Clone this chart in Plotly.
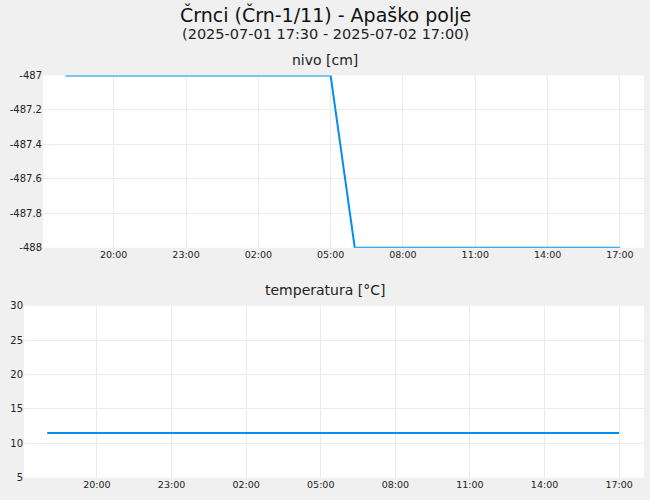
import plotly.graph_objects as go
import pandas as pd

# ---- data ----
times = list(pd.date_range("2025-07-01 18:00", "2025-07-02 17:00", freq="1h"))
nivo = [-487, -487, -487, -487, -487, -487, -487, -487, -487, -487, -487, -487,
        -488, -488, -488, -488, -488, -488, -488, -488, -488, -488, -488, -488]
temperatura = [11.5, 11.5, 11.5, 11.5, 11.5, 11.5, 11.5, 11.5, 11.5, 11.5, 11.5, 11.5,
               11.5, 11.5, 11.5, 11.5, 11.5, 11.5, 11.5, 11.5, 11.5, 11.5, 11.5, 11.5]

nivo_ticks = [-488, -487.8, -487.6, -487.4, -487.2, -487]
nivo_ticklabels = ["-488", "-487.8", "-487.6", "-487.4", "-487.2", "-487"]
temp_ticks = [5, 10, 15, 20, 25, 30]

title = "Črnci (Črn-1/11) - Apaško polje"
subtitle = "(2025-07-01 17:30 - 2025-07-02 17:00)"
title1 = "nivo [cm]"
title2 = "temperatura [°C]"

W, H = 650, 500
FONT = "DejaVu Sans"
LINE = "#0090ee"
GRID = "#ebebeb"
BG = "#f0f0f0"

xrange_ = ["2025-07-01 17:04", "2025-07-02 18:00"]

fig = go.Figure()
fig.add_trace(go.Scatter(x=times, y=nivo, mode="lines", line=dict(color=LINE, width=2),
                         xaxis="x", yaxis="y", showlegend=False))
fig.add_trace(go.Scatter(x=times, y=temperatura, mode="lines", line=dict(color=LINE, width=2),
                         xaxis="x2", yaxis="y2", showlegend=False))

def px(v):
    return v / W
def py(v):
    return 1 - v / H

xcommon = dict(type="date", range=xrange_, tickformat="%H:%M", dtick=3 * 3600 * 1000,
               tick0="2025-07-01 20:00", showgrid=True, gridcolor=GRID, gridwidth=1,
               zeroline=False, showline=False, ticks="", automargin=False,
               tickfont=dict(family=FONT, size=9.5, color="#222"))
ycommon = dict(showgrid=True, gridcolor=GRID, gridwidth=1, zeroline=False, showline=False,
               ticks="", automargin=False, tickfont=dict(family=FONT, size=10, color="#222"))

fig.update_layout(
    width=W, height=H,
    paper_bgcolor=BG, plot_bgcolor="white",
    margin=dict(l=0, r=0, t=0, b=0),
    font=dict(family=FONT, color="#222"),
    xaxis=dict(domain=[px(43), px(644)], anchor="y", **xcommon),
    yaxis=dict(domain=[py(247.7), py(75.5)], anchor="x", range=[-488, -487],
               tickvals=nivo_ticks, ticktext=nivo_ticklabels, **ycommon),
    xaxis2=dict(domain=[px(24), px(644)], anchor="y2", **xcommon),
    yaxis2=dict(domain=[py(477.7), py(305.7)], anchor="x2", range=[5, 30],
                tickvals=temp_ticks, **ycommon),
    annotations=[
        dict(text=title, x=0.5, y=py(14), xref="paper", yref="paper", showarrow=False,
             font=dict(family=FONT, size=19, color="#111"), xanchor="center", yanchor="middle"),
        dict(text=subtitle, x=0.5, y=py(34.5), xref="paper", yref="paper", showarrow=False,
             font=dict(family=FONT, size=14.5, color="#222"), xanchor="center", yanchor="middle"),
        dict(text=title1, x=0.5, y=py(60), xref="paper", yref="paper", showarrow=False,
             font=dict(family=FONT, size=14, color="#222"), xanchor="center", yanchor="middle"),
        dict(text=title2, x=0.5, y=py(290), xref="paper", yref="paper", showarrow=False,
             font=dict(family=FONT, size=14, color="#222"), xanchor="center", yanchor="middle"),
    ],
)

fig.write_html("out.html", config={"displayModeBar": False},
               post_script="document.body.style.margin='0';document.body.style.overflow='hidden';")
